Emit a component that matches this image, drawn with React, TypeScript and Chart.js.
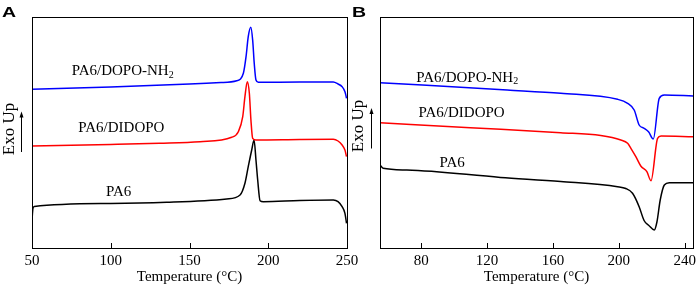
import { useEffect, useRef } from 'react';
import Chart from 'chart.js/auto';

const FONT = "'Liberation Serif', 'Times New Roman', serif";

// ---------- Panel A (cooling / crystallization) ----------
const ticksA = [50, 100, 150, 200, 250];
const blueA_T = [50, 100, 150, 170, 180, 184.2, 185.9, 187.3, 188.9, 190.1, 191.1, 192.2, 193.7, 220, 241.3, 244.3, 246.9, 248.7, 249.7];
const blueA_V = [158.7, 161, 164, 165.5, 167.3, 174.7, 191.3, 211.3, 220.7, 208, 184.7, 168, 165.7, 166, 166, 164, 161.3, 156.3, 149.7];
const redA_T = [50, 100, 131, 156.7, 176.8, 181, 183.8, 185.2, 186.7, 188, 189, 190.1, 192.2, 220, 241.3, 244.3, 246.9, 248.7, 249.7];
const redA_V = [102, 103.5, 104.7, 106.3, 110.7, 116.3, 131.3, 151.3, 166.3, 154.7, 128, 109.7, 108, 108.5, 108.7, 107, 103, 98, 91.3];
const blackA_T = [50, 50.6, 51.5, 100, 135.5, 173.6, 182.1, 185.2, 187.3, 189.5, 191, 192.2, 193.3, 194.8, 196.9, 220, 241.3, 244.3, 246.9, 248.7, 249.7];
const blackA_V = [28, 39.7, 41.5, 44.5, 45.7, 49, 53, 64.7, 81.3, 98, 108, 88, 68, 47.3, 46.3, 47.5, 48, 46.3, 41.3, 34.7, 24.7];

// ---------- Panel B (heating / melting) ----------
const ticksB = [80, 120, 160, 200, 240];
const blueB_T = [55, 132.2, 164.7, 199.2, 205.3, 209.3, 212.3, 215.3, 218, 220.9, 224.5, 227.6, 245];
const blueB_V = [165.3, 158, 154.7, 148.7, 144.7, 138, 123, 119.7, 116.3, 109, 149.7, 153, 152];
const redB_T = [55, 109.8, 164.7, 189, 201.2, 205.3, 207.3, 210.3, 213.3, 217, 219.5, 223.5, 225.6, 245];
const redB_V = [125.3, 120.3, 115.3, 112.5, 108, 104.7, 99.7, 91.3, 82, 76.3, 67.3, 109.7, 112, 111.3];
const blackB_T = [55, 56.9, 71.3, 128.1, 164.7, 199.2, 204.2, 208.3, 212.3, 215.3, 218.2, 221.5, 223.1, 225.1, 227.6, 230.6, 245];
const blackB_V = [83, 79.7, 78, 70.6, 66.5, 61.3, 59.5, 54.7, 41.3, 27.5, 22.5, 18, 26, 48, 63, 65.3, 65.3];

const seriesNames = ['PA6/DOPO-NH', 'PA6/DIDOPO', 'PA6'];
const seriesColors = ['#0000ff', '#ff0000', '#000000'];

const pts = (xs: number[], ys: number[]) => xs.map((x, i) => ({ x, y: ys[i] }));

const decor = {
  id: 'decor',
  afterDraw(chart: any, _args: any, o: any) {
    const { ctx, chartArea, scales } = chart;
    const { left, right, top, bottom } = chartArea;
    const x = scales.x, y = scales.y;
    ctx.save();
    // frame
    ctx.strokeStyle = '#000';
    ctx.lineWidth = 1;
    ctx.strokeRect(Math.round(left) + 0.5, Math.round(top) + 0.5, Math.round(right - left), Math.round(bottom - top));
    // inward ticks
    ctx.beginPath();
    x.ticks.forEach((t: any) => {
      const px = Math.round(x.getPixelForValue(t.value)) + 0.5;
      ctx.moveTo(px, bottom);
      ctx.lineTo(px, bottom - 5);
    });
    ctx.stroke();
    // series labels
    ctx.fillStyle = '#000';
    ctx.textAlign = 'left';
    ctx.textBaseline = 'middle';
    o.labels.forEach((l: any) => {
      const lx = x.getPixelForValue(l.t);
      const ly = y.getPixelForValue(l.v);
      ctx.font = `15px ${FONT}`;
      ctx.fillText(l.text, lx, ly);
      if (l.sub) {
        const w = ctx.measureText(l.text).width;
        ctx.font = `10px ${FONT}`;
        ctx.fillText(l.sub, lx + w, ly + 4);
      }
    });
    // y label "Exo Up" with arrow
    ctx.save();
    ctx.translate(o.exo.x, o.exo.y);
    ctx.rotate(-Math.PI / 2);
    ctx.textAlign = 'center';
    ctx.textBaseline = 'middle';
    ctx.font = `17px ${FONT}`;
    ctx.fillText('Exo Up', 0, 0);
    ctx.restore();
    ctx.beginPath();
    ctx.moveTo(o.arrow.x + 0.5, o.arrow.y2);
    ctx.lineTo(o.arrow.x + 0.5, o.arrow.y1 + 4);
    ctx.stroke();
    ctx.beginPath();
    ctx.moveTo(o.arrow.x + 0.5, o.arrow.y1);
    ctx.lineTo(o.arrow.x - 1.5, o.arrow.y1 + 6);
    ctx.lineTo(o.arrow.x + 2.5, o.arrow.y1 + 6);
    ctx.closePath();
    ctx.fill();
    // panel letter
    ctx.save();
    ctx.translate(o.letter.x, o.letter.y);
    ctx.scale(1.3, 1);
    ctx.font = `bold 15px 'Liberation Sans', Arial, sans-serif`;
    ctx.textAlign = 'left';
    ctx.textBaseline = 'alphabetic';
    ctx.fillText(o.letter.text, 0, 0);
    ctx.restore();
    ctx.restore();
  },
};

function makeConfig(p: any): any {
  return {
    type: 'line',
    data: {
      datasets: p.series.map((s: any, i: number) => ({
        label: seriesNames[i],
        data: pts(s[0], s[1]),
        borderColor: seriesColors[i],
        borderWidth: 1.5,
        pointRadius: 0,
        fill: false,
        cubicInterpolationMode: 'monotone',
      })),
    },
    options: {
      animation: false,
      responsive: false,
      maintainAspectRatio: false,
      layout: { padding: { left: p.padL, right: p.padR, top: 17, bottom: 0 } },
      plugins: {
        legend: { display: false },
        tooltip: { enabled: false },
        decor: p.decor,
      },
      scales: {
        x: {
          type: 'linear',
          min: p.min,
          max: p.max,
          afterBuildTicks: (s: any) => {
            s.ticks = p.ticks.map((v: number) => ({ value: v }));
          },
          afterFit: (s: any) => {
            s.height = 39;
            s.paddingLeft = 0;
            s.paddingRight = 0;
          },
          grid: { display: false, drawTicks: false },
          border: { display: false },
          ticks: { color: '#000', font: { family: FONT, size: 15 }, padding: 4, maxRotation: 0, autoSkip: false },
          title: {
            display: true,
            text: 'Temperature (°C)',
            color: '#000',
            font: { family: FONT, size: 15 },
            padding: { top: 0, bottom: 1 },
          },
        },
        y: { display: false, min: 0, max: 231 },
      },
    },
    plugins: [decor],
  };
}

const panelA = {
  min: 50, max: 250, ticks: ticksA, padL: 32, padR: 13,
  series: [[blueA_T, blueA_V], [redA_T, redA_V], [blackA_T, blackA_V]],
  decor: {
    labels: [
      { text: 'PA6/DOPO-NH', sub: '2', t: 75.2, v: 177 },
      { text: 'PA6/DIDOPO', t: 79.4, v: 119.7 },
      { text: 'PA6', t: 97, v: 55.7 },
    ],
    exo: { x: 9.5, y: 129 },
    arrow: { x: 21, y1: 111.5, y2: 152 },
    letter: { text: 'A', x: 2, y: 17 },
  },
};

const panelB = {
  min: 55, max: 245, ticks: ticksB, padL: 40, padR: 6,
  series: [[blueB_T, blueB_V], [redB_T, redB_V], [blackB_T, blackB_V]],
  decor: {
    labels: [
      { text: 'PA6/DOPO-NH', sub: '2', t: 77, v: 170.3 },
      { text: 'PA6/DIDOPO', t: 78.4, v: 134.7 },
      { text: 'PA6', t: 91.1, v: 85.3 },
    ],
    exo: { x: 19, y: 126 },
    arrow: { x: 31, y1: 108, y2: 148.5 },
    letter: { text: 'B', x: 12, y: 17 },
  },
};

export default function App() {
  const refA = useRef<HTMLCanvasElement>(null);
  const refB = useRef<HTMLCanvasElement>(null);
  useEffect(() => {
    const a = new Chart(refA.current as HTMLCanvasElement, makeConfig(panelA));
    const b = new Chart(refB.current as HTMLCanvasElement, makeConfig(panelB));
    return () => {
      a.destroy();
      b.destroy();
    };
  }, []);
  return (
    <div style={{ position: 'fixed', left: 0, top: 0, width: 699, height: 287, background: '#fff' }}>
      <canvas ref={refA} width={360} height={287} style={{ position: 'absolute', left: 0, top: 0, width: 360, height: 287 }} />
      <canvas ref={refB} width={359} height={287} style={{ position: 'absolute', left: 340, top: 0, width: 359, height: 287 }} />
    </div>
  );
}
